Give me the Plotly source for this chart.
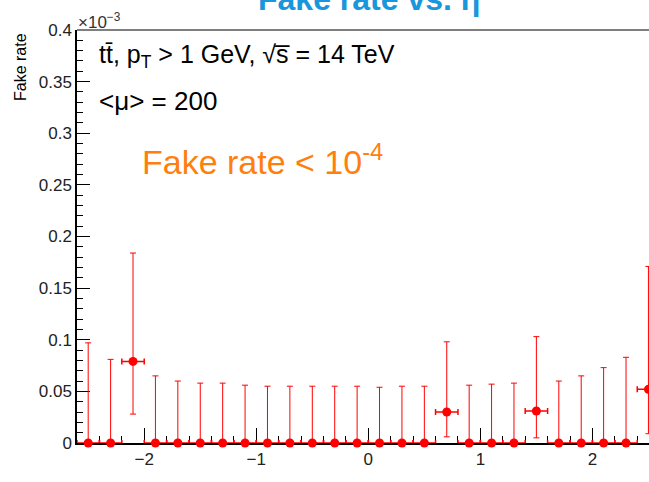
import plotly.graph_objects as go

# Data (fake rate in units of 1e-3)
eta = [-2.5, -2.3, -2.1, -1.9, -1.7, -1.5, -1.3, -1.1, -0.9, -0.7, -0.5, -0.3, -0.1,
       0.1, 0.3, 0.5, 0.7, 0.9, 1.1, 1.3, 1.5, 1.7, 1.9, 2.1, 2.3, 2.5]
rate = [0, 0, 0.079, 0, 0, 0, 0, 0, 0, 0, 0, 0, 0,
        0, 0, 0, 0.030, 0, 0, 0, 0.031, 0, 0, 0, 0, 0.052]
upper = [0.097, 0.081, 0.184, 0.065, 0.060, 0.058, 0.058, 0.056, 0.055, 0.055, 0.055, 0.055, 0.055,
         0.054, 0.055, 0.055, 0.098, 0.056, 0.057, 0.058, 0.103, 0.060, 0.065, 0.073, 0.083, 0.171]
lower = [0, 0, 0.028, 0, 0, 0, 0, 0, 0, 0, 0, 0, 0,
         0, 0, 0, 0.006, 0, 0, 0, 0.005, 0, 0, 0, 0, 0.009]
bin_half_width = [0.1] * len(eta)

err_plus = [u - r for u, r in zip(upper, rate)]
err_minus = [r - l for r, l in zip(rate, lower)]

FONT = "Liberation Sans, Arial, Helvetica, sans-serif"
W, H = 649, 482
L, R, T, B = 77, 0, 30, 39
pw, ph = W - L - R, H - T - B


def px_x(x):
    return (x - L) / pw


def px_y(y):
    return (H - B - y) / ph


fig = go.Figure()
fig.add_trace(go.Scatter(
    x=eta, y=rate, mode="markers",
    marker=dict(color="red", size=9, symbol="circle"),
    error_y=dict(type="data", symmetric=False, array=err_plus, arrayminus=err_minus,
                 color="red", thickness=1, width=3),
    error_x=dict(type="data", array=bin_half_width, color="red", thickness=1.5, width=3),
    cliponaxis=False, showlegend=False,
))

fig.update_layout(
    width=W, height=H,
    margin=dict(l=L, r=R, t=T, b=B, pad=0),
    paper_bgcolor="white", plot_bgcolor="white",
    font=dict(family=FONT, color="black", size=17),
    xaxis=dict(range=[-2.6, 2.505], showgrid=False, zeroline=False,
               showline=True, linecolor="black", linewidth=2,
               ticks="inside", ticklen=15, tickwidth=1, tickcolor="black",
               dtick=1, tick0=0, layer="below traces",
               tickfont=dict(size=17, family=FONT, color="#222222"),
               minor=dict(dtick=0.2, tick0=0, ticks="inside", ticklen=7, tickcolor="black", tickwidth=1)),
    yaxis=dict(range=[0, 0.4], showgrid=False, zeroline=False,
               showline=True, linecolor="black", linewidth=1.5,
               ticks="inside", ticklen=13, tickwidth=1, tickcolor="black",
               dtick=0.05, tick0=0, layer="below traces",
               tickfont=dict(size=17, family=FONT, color="#222222"),
               minor=dict(dtick=0.01, tick0=0, ticks="inside", ticklen=6, tickcolor="black", tickwidth=1)),
)

# top frame line
fig.add_shape(type="line", xref="paper", yref="paper", x0=0, x1=1, y0=1, y1=1,
              line=dict(color="#555555", width=1.5))

ann = [
    dict(text="<b>Fake rate vs. η</b>", x=px_x(369), y=px_y(-1), xanchor="center", yanchor="middle",
         font=dict(size=32, color="#1a96dc")),
    dict(text="×10<sup>−3</sup>", x=px_x(76), y=px_y(21), xanchor="left", yanchor="middle",
         font=dict(size=17, color="#333333")),
    dict(text="Fake rate", x=px_x(20), y=px_y(67), xanchor="center", yanchor="middle",
         textangle=-90, font=dict(size=16, color="black")),
    dict(text="tt̄, p<sub>T</sub> &gt; 1 GeV, √s̅ = 14 TeV", x=px_x(97), y=px_y(56),
         xanchor="left", yanchor="middle", font=dict(size=25, color="black")),
    dict(text="&lt;μ&gt; = 200", x=px_x(97), y=px_y(101), xanchor="left", yanchor="middle",
         font=dict(size=26, color="black")),
    dict(text="Fake rate &lt; 10<sup>-4</sup>", x=px_x(140), y=px_y(160), xanchor="left",
         yanchor="middle", font=dict(size=34, color="#ff7f0e")),
]
for a in ann:
    fig.add_annotation(xref="paper", yref="paper", showarrow=False, **a)

fig.write_html("out.html")
